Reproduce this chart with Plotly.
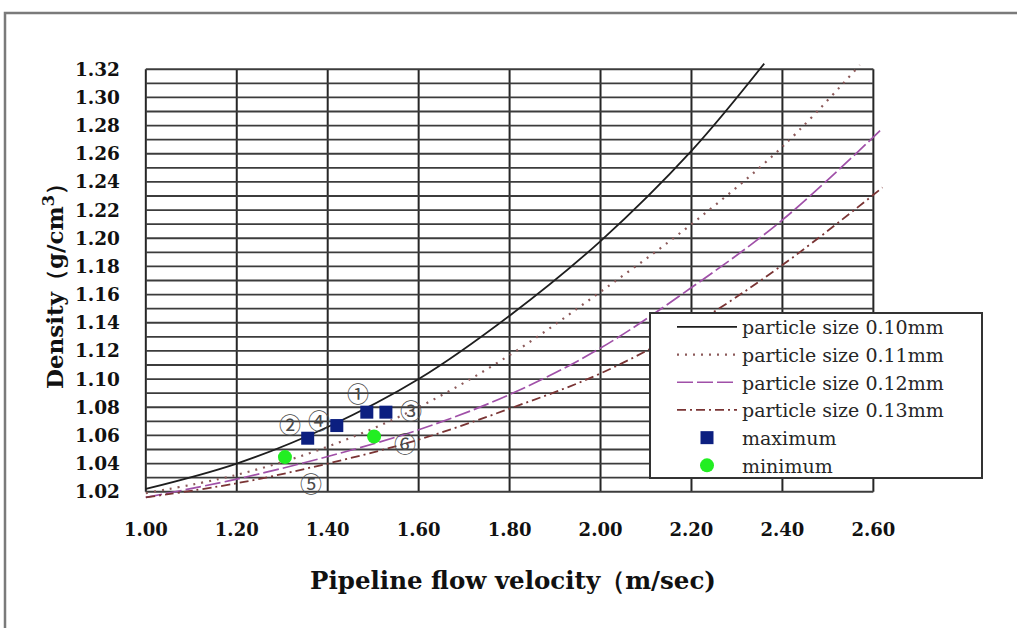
import plotly.graph_objects as go

# ---- data ----
vel = [1.0, 1.2, 1.4, 1.6, 1.8, 2.0, 2.2, 2.4]
d010_x = vel[:7] + [2.36]
d010_y = [1.022, 1.040, 1.066, 1.100, 1.145, 1.198, 1.262, 1.324]
d011_x = vel + [2.57]
d011_y = [1.019, 1.032, 1.052, 1.080, 1.117, 1.162, 1.210, 1.265, 1.323]
d012_x = vel + [2.62]
d012_y = [1.016, 1.029, 1.045, 1.064, 1.089, 1.122, 1.165, 1.213, 1.278]
d013_x = vel + [2.62]
d013_y = [1.016, 1.026, 1.040, 1.057, 1.079, 1.104, 1.138, 1.181, 1.236]

max_x = [1.356, 1.420, 1.486, 1.528]
max_y = [1.058, 1.067, 1.0765, 1.0765]
min_x = [1.306, 1.502]
min_y = [1.0446, 1.0592]

lab_text = ["①", "②", "③", "④", "⑤", "⑥"]
lab_x = [1.467, 1.317, 1.583, 1.381, 1.363, 1.570]
lab_y = [1.0909, 1.0691, 1.0785, 1.0720, 1.0266, 1.0552]

x_ticks = [1.0, 1.2, 1.4, 1.6, 1.8, 2.0, 2.2, 2.4, 2.6]
x_tick_text = ["1.00", "1.20", "1.40", "1.60", "1.80", "2.00", "2.20", "2.40", "2.60"]
y_ticks = [round(1.02 + 0.02 * i, 2) for i in range(16)]
y_tick_text = ["%.2f" % v for v in y_ticks]
y_grid = [round(1.02 + 0.01 * i, 2) for i in range(31)]

SERIF = "DejaVu Serif, serif"

# plot-area geometry (pixels) used for paper-coordinate placements
L, R, T, B = 139, 887, 58, 503
W_PA, H_PA = R - L, B - T


def px(xp):
    return (xp - L) / W_PA


def py(yp):
    return (B - yp) / H_PA


fig = go.Figure()

fig.add_trace(go.Scatter(x=d010_x, y=d010_y, mode="lines", name="particle size 0.10mm",
                         line=dict(color="#1e1e1e", width=1.8, shape="spline")))
fig.add_trace(go.Scatter(x=d011_x, y=d011_y, mode="lines", name="particle size 0.11mm",
                         line=dict(color="#8c5a5a", width=2.2, dash="2px,6px", shape="spline")))
fig.add_trace(go.Scatter(x=d012_x, y=d012_y, mode="lines", name="particle size 0.12mm",
                         line=dict(color="#a050a8", width=1.7, dash="16px,4px", shape="spline")))
fig.add_trace(go.Scatter(x=d013_x, y=d013_y, mode="lines", name="particle size 0.13mm",
                         line=dict(color="#7a3434", width=1.8, dash="9px,4px,2px,4px", shape="spline")))
fig.add_trace(go.Scatter(x=max_x, y=max_y, mode="markers", name="maximum",
                         marker=dict(symbol="square", size=13, color="#0c1f80")))
fig.add_trace(go.Scatter(x=min_x, y=min_y, mode="markers", name="minimum",
                         marker=dict(symbol="circle", size=14, color="#22ee22")))

for t, x, y in zip(lab_text, lab_x, lab_y):
    fig.add_annotation(x=x, y=y, text=t, showarrow=False,
                       font=dict(family="Noto Sans CJK SC", size=22, color="#4a4a4a"))

# grid drawn in data coordinates, limited to the 1.00-2.60 x 1.02-1.32 frame
for gx in x_ticks:
    fig.add_shape(type="line", x0=gx, x1=gx, y0=1.02, y1=1.32, xref="x", yref="y",
                  line=dict(color="#262626", width=2), layer="below")
for gy in y_grid:
    fig.add_shape(type="line", x0=1.0, x1=2.6, y0=gy, y1=gy, xref="x", yref="y",
                  line=dict(color="#3c3c3c", width=1.8), layer="below")

# legend box (legend itself is drawn on top of it)
fig.add_shape(type="rect", xref="paper", yref="paper",
              x0=px(650), x1=px(982), y0=py(313), y1=py(478),
              fillcolor="white", line=dict(color="#333333", width=2), layer="above")

# outer frame of the picture
fig.add_shape(type="rect", xref="paper", yref="paper",
              x0=px(5), x1=1.5, y0=py(13), y1=-0.5,
              line=dict(color="#7a7a7a", width=2.5))

fig.update_layout(
    width=1017, height=628,
    margin=dict(l=L, r=1017 - R, t=T, b=628 - B),
    paper_bgcolor="white", plot_bgcolor="white",
    showlegend=True,
    legend=dict(x=px(672), y=py(308), xanchor="left", yanchor="top",
                bgcolor="rgba(0,0,0,0)", borderwidth=0,
                font=dict(family=SERIF, size=19, color="#262626"),
                itemwidth=60, tracegroupgap=0),
    xaxis=dict(range=[0.985, 2.63], tickvals=x_ticks, ticktext=x_tick_text,
               showgrid=False, zeroline=False, showline=False, ticks="",
               ticklabelstandoff=14,
               tickfont=dict(family=SERIF, size=18, color="#111111", weight="bold"),
               title=dict(text="Pipeline flow velocity（m/sec)", standoff=32,
                          font=dict(family=SERIF, size=24.5, color="#111111", weight="bold"))),
    yaxis=dict(range=[1.012, 1.328], tickvals=y_ticks, ticktext=y_tick_text,
               showgrid=False, zeroline=False, showline=False, ticks="",
               ticklabelstandoff=18,
               tickfont=dict(family=SERIF, size=18.5, color="#111111", weight="bold"),
               title=dict(text="Density（g/cm<sup>3</sup>）", standoff=4,
                          font=dict(family=SERIF, size=23, color="#111111", weight="bold"))),
)

fig.write_html("out.html")
